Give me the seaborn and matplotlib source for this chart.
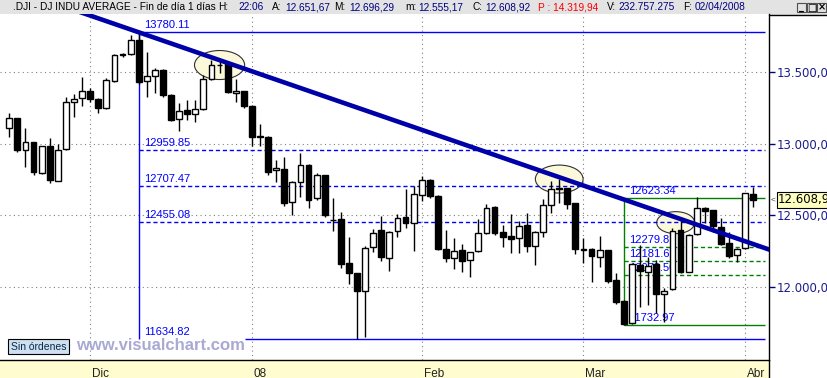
import numpy as np
import pandas as pd
import matplotlib.pyplot as plt
import matplotlib.ticker as mticker
from matplotlib.patches import Ellipse, Rectangle
from matplotlib.lines import Line2D
from matplotlib.transforms import ScaledTranslation
import seaborn as sns

# daily bars, DJ INDU AVERAGE
dates = ['2007-11-16', '2007-11-19', '2007-11-20', '2007-11-21', '2007-11-23', '2007-11-26',
         '2007-11-27', '2007-11-28', '2007-11-29', '2007-11-30',
         '2007-12-03', '2007-12-04', '2007-12-05', '2007-12-06', '2007-12-07', '2007-12-10',
         '2007-12-11', '2007-12-12', '2007-12-13', '2007-12-14', '2007-12-17', '2007-12-18',
         '2007-12-19', '2007-12-20', '2007-12-21', '2007-12-24', '2007-12-26', '2007-12-27',
         '2007-12-28', '2007-12-31',
         '2008-01-02', '2008-01-03', '2008-01-04', '2008-01-07', '2008-01-08', '2008-01-09',
         '2008-01-10', '2008-01-11', '2008-01-14', '2008-01-15', '2008-01-16', '2008-01-17',
         '2008-01-18', '2008-01-22', '2008-01-23', '2008-01-24', '2008-01-25', '2008-01-28',
         '2008-01-29', '2008-01-30', '2008-01-31',
         '2008-02-01', '2008-02-04', '2008-02-05', '2008-02-06', '2008-02-07', '2008-02-08',
         '2008-02-11', '2008-02-12', '2008-02-13', '2008-02-14', '2008-02-15', '2008-02-19',
         '2008-02-20', '2008-02-21', '2008-02-22', '2008-02-25', '2008-02-26', '2008-02-27',
         '2008-02-28', '2008-02-29',
         '2008-03-03', '2008-03-04', '2008-03-05', '2008-03-06', '2008-03-07', '2008-03-10',
         '2008-03-11', '2008-03-12', '2008-03-13', '2008-03-14', '2008-03-17', '2008-03-18',
         '2008-03-19', '2008-03-20', '2008-03-24', '2008-03-25', '2008-03-26', '2008-03-27',
         '2008-03-28', '2008-03-31',
         '2008-04-01', '2008-04-02']
opens = [13108, 13178, 12957, 13010, 12797, 12984, 12742, 12961, 13290, 13318,
         13369, 13313, 13248, 13439, 13618, 13626, 13726, 13439, 13474, 13516,
         13341, 13171, 13236, 13206, 13241, 13451, 13548, 13563, 13358, 13369,
         13264, 13045, 13050, 12815, 12824, 12591, 12735, 12852, 12619, 12782,
         12470, 12472, 12164, 12094, 11972, 12276, 12397, 12203, 12390, 12486, 12448,
         12642, 12747, 12635, 12262, 12199, 12257, 12187, 12250, 12374, 12556,
         12383, 12355, 12339, 12430, 12285, 12381, 12572, 12686, 12689, 12584,
         12264, 12264, 12206, 12257, 12047, 11900, 11744, 12152, 12101, 12157,
         11947, 11982, 12397, 12105, 12369, 12549, 12537, 12420, 12304, 12222,
         12269, 12651.67]
highs = [13213, 13180, 13108, 13012, 12985, 13042, 12996, 13325, 13346, 13465,
         13390, 13320, 13460, 13630, 13637, 13761, 13780.11, 13644, 13532, 13520,
         13345, 13283, 13306, 13306, 13481, 13586, 13591, 13565, 13451, 13372,
         13270, 13136, 13055, 12886, 12910, 12740, 12933, 12860, 12794, 12784,
         12619, 12521, 12346, 12098, 12285, 12404, 12497, 12392, 12509, 12682, 12705,
         12777, 12754, 12640, 12397, 12339, 12299, 12245, 12472, 12579, 12565,
         12430, 12509, 12462, 12514, 12390, 12614, 12742, 12752, 12690, 12586,
         12339, 12270, 12355, 12258, 12098, 11905, 12157, 12292, 12210, 12187,
         11990, 12409, 12467, 12370, 12630, 12560, 12540, 12479, 12385, 12270,
         12657, 12696.29]
lows = [13049, 12945, 12840, 12780, 12790, 12724, 12740, 12958, 13185, 13264,
        13290, 13215, 13240, 13435, 13609, 13620, 13420, 13325, 13353, 13330,
        13160, 13091, 13166, 13150, 13238, 13448, 13493, 13355, 13294, 13250,
        12985, 12985, 12780, 12735, 12567, 12502, 12630, 12551, 12610, 12490,
        12392, 12129, 12019, 11634.82, 11645, 12245, 12182, 12112, 12350, 12409, 12252,
        12602, 12623, 12255, 12175, 12122, 12105, 12070, 12245, 12370, 12362,
        12280, 12234, 12234, 12245, 12152, 12350, 12514, 12584, 12542, 12227,
        12164, 12035, 12140, 12028, 11880, 11732.97, 11740, 11860, 11872, 11814,
        11755, 11980, 12095, 12100, 12365, 12448, 12381, 12292, 12203, 12175,
        12262, 12555.17]
closes = [13177, 12958, 13010, 12799, 12981, 12743, 12958, 13289, 13312, 13372,
          13315, 13249, 13445, 13620, 13626, 13727, 13433, 13474, 13518, 13340,
          13167, 13232, 13207, 13246, 13451, 13550, 13552, 13360, 13366, 13265,
          13044, 13057, 12800, 12827, 12589, 12735, 12853, 12606, 12778, 12501,
          12466, 12159, 12099, 11971, 12270, 12379, 12207, 12384, 12480, 12443, 12650,
          12743, 12635, 12265, 12200, 12247, 12182, 12240, 12373, 12552, 12377,
          12348, 12337, 12427, 12284, 12381, 12570, 12685, 12694, 12582, 12266,
          12259, 12214, 12255, 12040, 11894, 11740, 12157, 12110, 12146, 11951,
          11972, 12393, 12100, 12361, 12549, 12533, 12423, 12302, 12216, 12263,
          12654, 12608.92]

month_labels = ['Dic', '08', 'Feb', 'Mar', 'Abr']
month_dates = ['2007-12-03', '2008-01-02', '2008-02-01', '2008-03-03', '2008-04-01']
price_ticks = [12000, 12500, 13000, 13500]

# blue retracement from the December top
blue_anchor = '2007-12-11'
blue_levels = [13780.11, 12959.85, 12707.47, 12455.08, 11634.82]
# green retracement from the March low
green_anchor = '2008-03-10'
green_levels = [12623.34, 12279.81, 12181.66, 12078.50, 11732.97]

# downtrend line through two points
trend_dates = ['2007-12-11', '2008-04-02']
trend_prices = [13780.11, 12298]

# highlighted touches (bar position, price, width in bars, height in points)
ellipse_x = [26.0, 68.0, 82.4]
ellipse_y = [13551, 12753, 12448]
ellipse_w = [6.2, 5.9, 4.7]
ellipse_h = [203, 196, 154]

header = [(13, '.DJI - DJ INDU AVERAGE - Fin de día 1 días', 'black'), (218, 'H:', 'black'),
          (238, '22:06', '#000080'), (272, 'A:', 'black'), (285, '12.651,67', '#000080'),
          (334, 'M:', 'black'), (349, '12.696,29', '#000080'), (405, 'm:', 'black'),
          (418, '12.555,17', '#000080'), (473, 'C:', 'black'), (485, '12.608,92', '#000080'),
          (538, 'P : 14.319,94', '#ff0000'), (607, 'V:', 'black'), (618, '232.757.275', '#000080'),
          (683, 'F:', 'black'), (695, '02/04/2008', '#000080')]

sns.set_style('white')
plt.rcParams['font.family'] = ['Liberation Sans', 'DejaVu Sans']

df = pd.DataFrame({'date': dates, 'open': opens, 'high': highs, 'low': lows, 'close': closes})
df['i'] = np.arange(len(df))
pos = dict(zip(df['date'], df['i']))

W, H = 828, 378
fig = plt.figure(figsize=(W / 100, H / 100), dpi=100)
fig.patch.set_facecolor('white')


def fy(py):
    return 1 - py / H


# backgrounds first so they sit under the axes
fig.patches.append(Rectangle((0, fy(14)), 1, 14 / H, transform=fig.transFigure,
                             color='#e3e3e3', zorder=-5))
fig.patches.append(Rectangle((0, 0), 769 / W, 18 / H, transform=fig.transFigure,
                             color='#fffdd0', zorder=-5))

ax = fig.add_axes([0, 18 / H, 769 / W, 346 / H])
ax.set_xlim(-1.15, 93.94)
ax.set_ylim(11487, 13908)
ax.set_facecolor('white')

# grid
ax.set_axisbelow(True)
ax.grid(True, color='#808080', linestyle=(0, (1, 3)), lw=0.8)

# ellipses
for ex, ey, ew, eh in zip(ellipse_x, ellipse_y, ellipse_w, ellipse_h):
    ax.add_patch(Ellipse((ex, ey), ew, eh, fc='#fcf9db', ec='#303030', lw=0.8, zorder=1.5))

x_end = 93.45

# blue levels
xa = pos[blue_anchor]
ax.vlines(xa, blue_levels[-1], blue_levels[0], color='#0000ff', lw=1, zorder=2)
for k, lv in enumerate(blue_levels):
    solid = k in (0, len(blue_levels) - 1)
    x0 = 29.1 if k == len(blue_levels) - 1 else xa
    ax.hlines(lv, x0, x_end, color='#0000ff', lw=1,
              linestyle='-' if solid else (0, (3, 2)), zorder=2)
    ax.annotate(f'{lv:.2f}', xy=(xa, lv), xytext=(5, 4), textcoords='offset pixels',
                fontsize=8, color='#0000ff', va='baseline', ha='left', zorder=2.5)

# green levels
xg = pos[green_anchor]
ax.vlines(xg, green_levels[-1], green_levels[0], color='#008000', lw=1, zorder=2)
for k, lv in enumerate(green_levels):
    solid = k in (0, len(green_levels) - 1)
    ax.hlines(lv, xg, x_end, color='#008000', lw=1,
              linestyle='-' if solid else (0, (3, 2)), zorder=2)
    ax.annotate(f'{lv:.2f}', xy=(xg, lv), xytext=(5, 4), textcoords='offset pixels',
                fontsize=8, color='#0000ff', va='baseline', ha='left', zorder=2.5)

# candles
up = df['close'] >= df['open']
ax.vlines(df['i'], df['low'], df['high'], color='black', lw=1, zorder=3)
body_bottom = df[['open', 'close']].min(axis=1)
body_h = (df['close'] - df['open']).abs()
ax.bar(df['i'], body_h, bottom=body_bottom, width=0.72,
       color=np.where(up, 'white', 'black'), edgecolor='black', linewidth=1, zorder=4)

# trend line, extended across the panel
t1, t2 = pos[trend_dates[0]], pos[trend_dates[1]]
slope = (trend_prices[1] - trend_prices[0]) / (t2 - t1)
tx = np.array([-2.0, 96.0])
ty = trend_prices[0] + slope * (tx - t1)
sns.lineplot(x=tx, y=ty, ax=ax, color='#0000a8', lw=3.3, zorder=6, legend=False)

# axes styling
for s in ['left', 'top']:
    ax.spines[s].set_visible(False)
for s in ['right', 'bottom']:
    ax.spines[s].set_color('black')
    ax.spines[s].set_linewidth(1)

ax.yaxis.tick_right()
ax.set_yticks(price_ticks)
ax.yaxis.set_major_formatter(mticker.FuncFormatter(
    lambda v, p: f'{v:,.2f}'.replace(',', 'X').replace('.', ',').replace('X', '.')))
ax.tick_params(axis='y', direction='out', length=4.3, width=1, color='#000080', pad=1,
               labelsize=8.5, labelcolor='#1c1c8c', labelfontfamily='DejaVu Sans')

ax.set_xticks([pos[d] for d in month_dates])
ax.set_xticklabels(month_labels)
ax.tick_params(axis='x', direction='out', length=5, width=1, color='black', pad=0.5,
               labelsize=8.5, labelcolor='#202020')
for lab in ax.get_xticklabels():
    lab.set_horizontalalignment('left')
    lab.set_transform(lab.get_transform() + ScaledTranslation(2 / 100, 0, fig.dpi_scale_trans))
ax.set_xlabel('')
ax.set_ylabel('')

# last price marker
last = closes[-1]
ax.annotate('12.608,9', xy=(1, last), xycoords=('axes fraction', 'data'), xytext=(9, 0),
            textcoords='offset pixels', va='center', ha='left', fontsize=8.5,
            fontfamily='DejaVu Sans', color='black', annotation_clip=False,
            bbox=dict(boxstyle='square,pad=0.12', fc='#ffffc0', ec='black', lw=0.8))
ax.annotate('<', xy=(1, last), xycoords=('axes fraction', 'data'), xytext=(2, 0),
            textcoords='offset pixels', va='center', ha='left', fontsize=6,
            color='#404040', annotation_clip=False)

# right frame
fig.add_artist(Line2D([769 / W, 769 / W], [0, 18 / H], color='black', lw=1))
fig.add_artist(Line2D([769 / W, 1], [fy(14.5), fy(14.5)], color='black', lw=1))

for px, txt, col in header:
    fig.text(px / W, fy(7.5), txt, fontsize=7.3, color=col, va='center', ha='left')

for bx, glyph in zip([797, 807, 817], ['_', '□', '×']):
    fig.patches.append(Rectangle((bx / W, fy(12)), 9 / W, 9 / H, transform=fig.transFigure,
                                 fc='#e3e3e3', ec='#505050', lw=0.8))
    fig.text((bx + 4.5) / W, fy(7.5), glyph, fontsize=7, weight='bold', color='black',
             va='center', ha='center', fontfamily='DejaVu Sans')

fig.text(11 / W, fy(346.5), 'Sin órdenes', fontsize=7.5, color='#0a2a40', va='center',
         ha='left', bbox=dict(boxstyle='square,pad=0.25', fc='#cfe0f2', ec='black', lw=0.8))
fig.text(76 / W, fy(345.5), 'www.visualchart.com', fontsize=12, weight='bold',
         color='#a9a9d4', va='center', ha='left')

fig.savefig('out.png', dpi=100)
